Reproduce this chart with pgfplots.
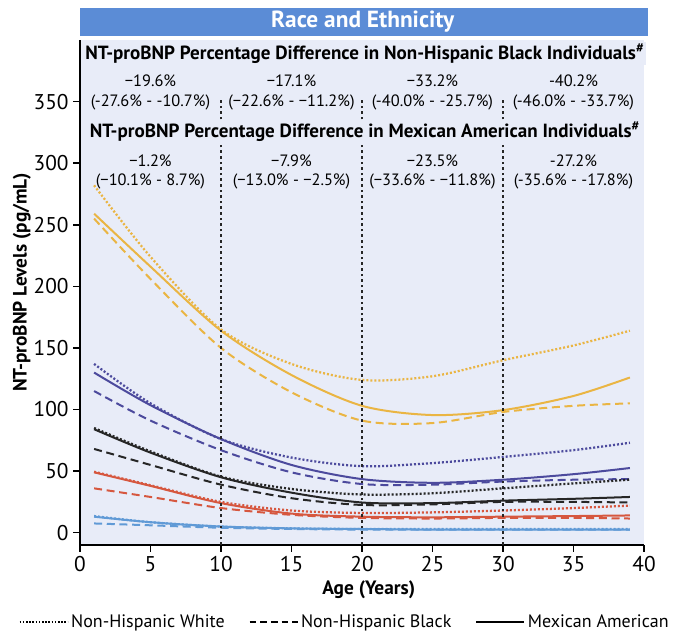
\documentclass[border=0pt]{standalone}
\usepackage{pgfplots}
\pgfplotsset{compat=1.18}
\usepackage{fontspec}
\setmainfont{PT Sans}
\definecolor{orangec}{RGB}{234,181,67}
\definecolor{purplec}{RGB}{76,74,157}
\definecolor{redc}{RGB}{214,87,63}
\definecolor{bluec}{RGB}{96,154,214}
\definecolor{blackc}{RGB}{38,38,38}
\definecolor{bgc}{RGB}{232,236,248}
\definecolor{bannerc}{RGB}{91,140,214}
\tikzset{
  dotsty/.style={line width=1.7pt, dash pattern=on 1.5pt off 1.5pt},
  dashsty/.style={line width=1.5pt, dash pattern=on 6pt off 3.5pt},
  solsty/.style={line width=1.5pt},
}
\begin{document}
\begin{tikzpicture}
\begin{axis}[
  at={(0pt,0pt)}, anchor=south west,
  scale only axis, width=423pt, height=378.75pt,
  xmin=0, xmax=40, ymin=-10, ymax=400,
  clip=false,
  axis x line*=bottom, axis y line*=left,
  axis line style={line width=1.2pt, -},
  axis background/.style={fill=bgc},
  xtick={0,5,...,40}, ytick={0,50,...,350},
  tick align=outside,
  major tick length=5pt,
  tick style={line width=1.2pt, black},
  /pgf/number format/assume math mode=true,
  tick label style={font=\fontsize{16}{19}\selectfont},
  xlabel={Age (Years)},
  ylabel={NT-proBNP Levels (pg/mL)},
  xlabel style={font=\fontsize{14.5}{17}\selectfont\bfseries, at={(axis description cs:0.512,-0.089)}, anchor=center},
  ylabel style={font=\fontsize{14.5}{17}\selectfont\bfseries, at={(axis description cs:-0.103,0.52)}, anchor=center},
  legend style={at={(axis description cs:0.47,-0.1525)}, anchor=center, draw=none, fill=none,
    font=\fontsize{13.5}{16}\selectfont,
    /tikz/every even column/.append style={column sep=16pt}},
  legend columns=3,
  legend image code/.code={\draw[#1] (0pt,0pt) -- (36pt,0pt);},
]
\addlegendimage{black, line width=1.3pt, dash pattern=on 1.2pt off 1.2pt}
\addlegendentry{Non-Hispanic White}
\addlegendimage{black, line width=1.3pt, dash pattern=on 5pt off 3pt}
\addlegendentry{Non-Hispanic Black}
\addlegendimage{black, line width=1.3pt}
\addlegendentry{Mexican American}

% Orange
\addplot[orangec, dotsty, smooth, forget plot] coordinates {(1,282) (5,224) (10,165) (15,137) (20,124) (25,127) (30,140) (35,152) (39,164)};
\addplot[orangec, dashsty, smooth, forget plot] coordinates {(1,255) (5,206) (10,150) (15,114) (20,91) (25,89) (30,98) (35,103) (39,105)};
\addplot[orangec, solsty, smooth, forget plot] coordinates {(1,259) (5,216) (10,164) (15,128) (20,103) (25,95.5) (30,99.5) (35,111) (39,126)};
% Purple
\addplot[purplec, dotsty, smooth, forget plot] coordinates {(1,137) (5,105) (10,76) (15,61) (20,54) (25,56.5) (30,61.5) (35,67) (39,73)};
\addplot[purplec, dashsty, smooth, forget plot] coordinates {(1,115) (5,91) (10,67) (15,49) (20,39.5) (25,39) (30,41.5) (35,43) (39,43.5)};
\addplot[purplec, solsty, smooth, forget plot] coordinates {(1,130) (5,103.5) (10,76) (15,55) (20,43.5) (25,40.5) (30,43) (35,47.5) (39,52.5)};
% Black
\addplot[blackc, dotsty, smooth, forget plot] coordinates {(1,85) (5,66) (10,45.5) (15,35.5) (20,31) (25,32) (30,36) (35,40) (39,43)};
\addplot[blackc, dashsty, smooth, forget plot] coordinates {(1,68) (5,55) (10,39) (15,28) (20,22.5) (25,23) (30,25) (35,25) (39,24.5)};
\addplot[blackc, solsty, smooth, forget plot] coordinates {(1,84) (5,65) (10,45) (15,32.5) (20,24.5) (25,24) (30,26) (35,27.5) (39,29)};
% Red
\addplot[redc, dotsty, smooth, forget plot] coordinates {(1,49.5) (5,38.5) (10,25) (15,18) (20,16) (25,16.5) (30,18) (35,20) (39,22)};
\addplot[redc, dashsty, smooth, forget plot] coordinates {(1,36) (5,29) (10,20) (15,14.5) (20,12) (25,11.5) (30,12) (35,12) (39,11.5)};
\addplot[redc, solsty, smooth, forget plot] coordinates {(1,49) (5,38) (10,24) (15,15.5) (20,13) (25,12.5) (30,13) (35,13.5) (39,14)};
% Blue
\addplot[bluec, dotsty, smooth, forget plot] coordinates {(1,13.5) (5,8.5) (10,5) (15,3.5) (20,3) (25,3) (30,3) (35,3) (39,3)};
\addplot[bluec, dashsty, smooth, forget plot] coordinates {(1,7.5) (5,6) (10,4) (15,3) (20,2.5) (25,2.5) (30,2.5) (35,2.5) (39,2.5)};
\addplot[bluec, solsty, smooth, forget plot] coordinates {(1,13) (5,8.5) (10,5) (15,3.5) (20,3) (25,2.5) (30,2.5) (35,2.5) (39,2.5)};

\foreach \xv in {10,20,30}{
  \edef\tmp{\noexpand\draw[blackc, line width=1.1pt, dash pattern=on 2pt off 2.2pt] (axis cs:\xv,-10) -- (axis cs:\xv,352);}
  \tmp
}

\node[fill=bgc, inner sep=1pt, font=\fontsize{14.3}{17}\selectfont\bfseries] at (axis cs:20.2,389) {NT-proBNP Percentage Difference in Non-Hispanic Black Individuals\textsuperscript{\#}};
\node[fill=bgc, inner sep=1pt, font=\fontsize{14.3}{17}\selectfont\bfseries] at (axis cs:20.2,325.3) {NT-proBNP Percentage Difference in Mexican American Individuals\textsuperscript{\#}};

\tikzset{valtxt/.style={font=\fontsize{12.3}{14}\selectfont, align=center}}
\node[valtxt] at (axis cs:5,366.7) {−19.6\%};
\node[valtxt] at (axis cs:15,366.7) {−17.1\%};
\node[valtxt] at (axis cs:25,366.7) {−33.2\%};
\node[valtxt] at (axis cs:35,366.7) {-40.2\%};
\node[valtxt] at (axis cs:5,349.6) {(-27.6\% - -10.7\%)};
\node[valtxt] at (axis cs:15,349.6) {(−22.6\% - −11.2\%)};
\node[valtxt] at (axis cs:25,349.6) {(-40.0\% - -25.7\%)};
\node[valtxt] at (axis cs:35,349.6) {(-46.0\% - -33.7\%)};

\node[valtxt] at (axis cs:5,302) {−1.2\%};
\node[valtxt] at (axis cs:15,302) {−7.9\%};
\node[valtxt] at (axis cs:25,302) {−23.5\%};
\node[valtxt] at (axis cs:35,302) {-27.2\%};
\node[valtxt] at (axis cs:5,285) {(−10.1\% - 8.7\%)};
\node[valtxt] at (axis cs:15,285) {(−13.0\% - −2.5\%)};
\node[valtxt] at (axis cs:25,285) {(−33.6\% - −11.8\%)};
\node[valtxt] at (axis cs:35,285) {(-35.6\% - -17.8\%)};
\end{axis}
\fill[bannerc] (0pt,381.75pt) rectangle (426pt,402.75pt);
\node[white, font=\fontsize{17.5}{20}\selectfont\bfseries] at (212pt,392.25pt) {Race and Ethnicity};
\pgfresetboundingbox
\useasboundingbox (-60pt,-67.5pt) rectangle (444.75pt,408.75pt);
\end{tikzpicture}
\end{document}
